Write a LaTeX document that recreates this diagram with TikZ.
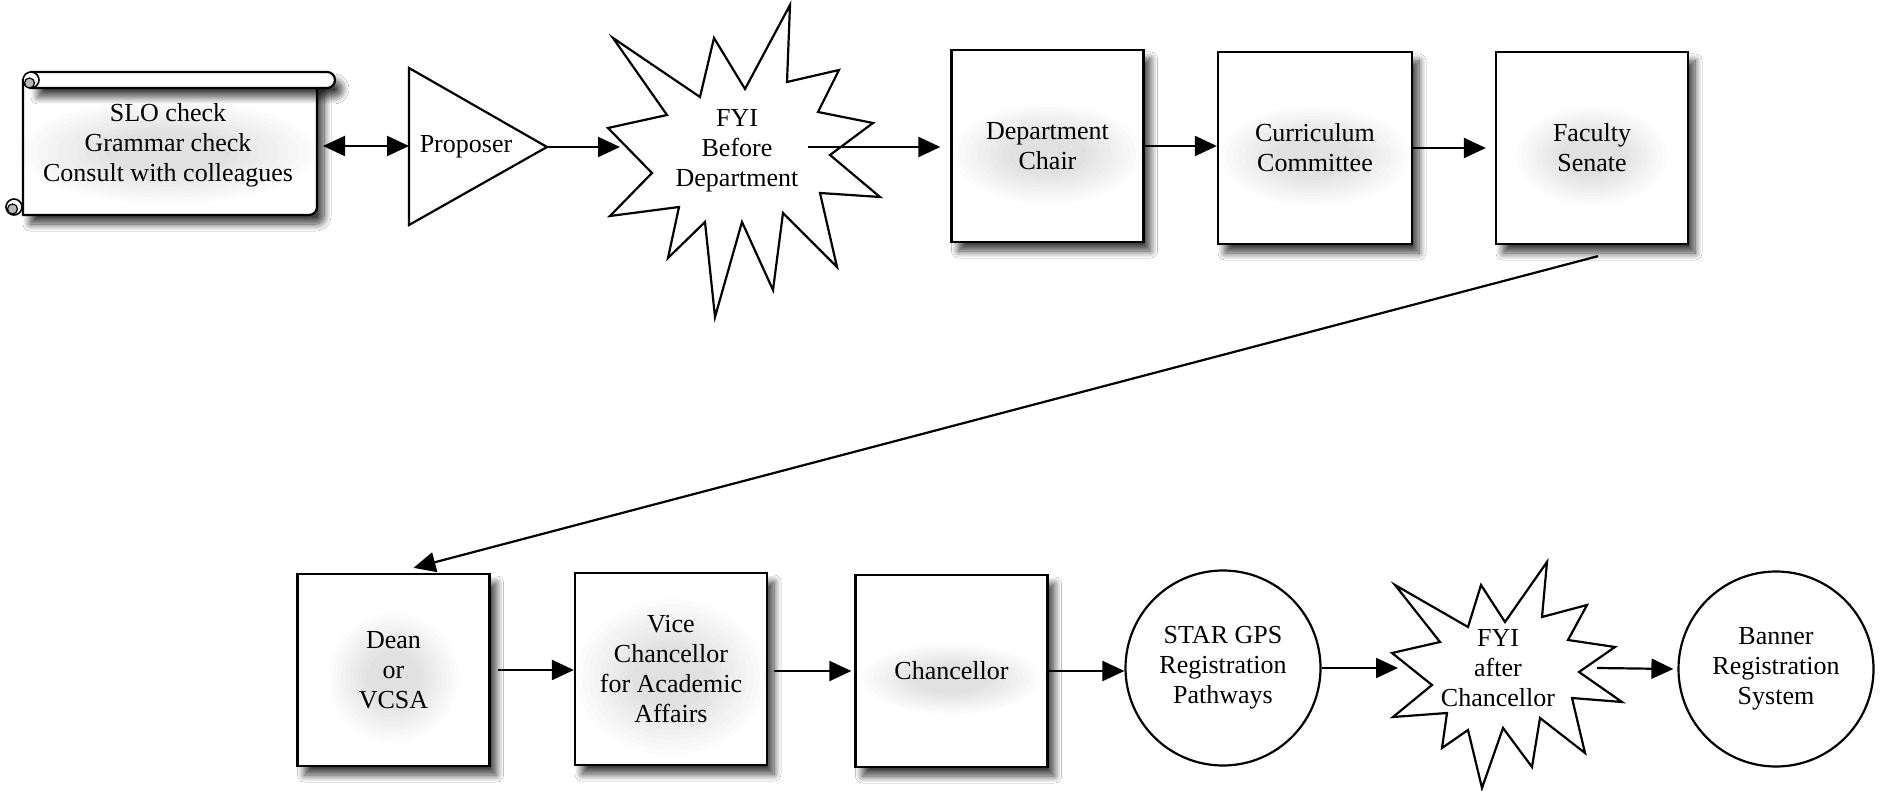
\documentclass[tikz,border=0pt]{standalone}
\usepackage{fontspec}
\setmainfont{Liberation Serif}
\usetikzlibrary{arrows.meta,shadows.blur}
\begin{document}
\begin{tikzpicture}[x=1pt,y=-1pt,
  lbl/.style={align=center,font=\fontsize{26}{30}\selectfont,inner sep=0pt},
  shd/.style={blur shadow={shadow xshift=7pt,shadow yshift=-9pt,shadow blur radius=7pt,shadow blur steps=12,shadow opacity=75}},
  box/.style={draw,line width=2.3pt,fill=white,minimum width=192pt,minimum height=192pt,inner sep=0pt,lbl,shd},
  glow/.style 2 args={path picture={
      \foreach \k in {1,...,10}{
        \fill[black,opacity=0.012] ([yshift=-8pt]path picture bounding box.center) ellipse[x radius={#1*(0.35+0.065*\k)}, y radius={#2*(0.35+0.065*\k)}];
      }}},
  tipa/.tip={Triangle[length=22pt,width=20pt,fill=black,color=black]},
  arr/.style={draw=black,line width=2.2pt,-tipa},
  dbl/.style={draw=black,line width=2.2pt,tipa-tipa},
  shapeline/.style={draw,line width=2.2pt,fill=white,line join=miter},
  circ/.style={circle,draw,line width=2.2pt,fill=white,minimum size=195pt,inner sep=0pt,lbl}
]
\useasboundingbox (0,0) rectangle (1880,791);
\fill[white] (0,0) rectangle (1880,791);

% ---- scroll ----
\path[shapeline,shd] (23,80) -- (23,215) -- (309,215) .. controls (313.4,215) and (317,211.4) .. (317,207) -- (317,80) -- cycle;
\foreach \k in {1,...,10}{
  \fill[black,opacity=0.012] (168,152) ellipse[x radius={150pt*(0.35+0.065*\k)}, y radius={52pt*(0.35+0.065*\k)}];
}
\path[shapeline,shd] (31,72) -- (327,72) .. controls (331.4,72) and (335,75.6) .. (335,80) .. controls (335,84.4) and (331.4,88) .. (327,88) -- (31,88) -- cycle;
\filldraw[line width=1.6pt,fill=white] (31,80) circle[radius=8pt];
\fill[gray!55] (29.5,83) circle[radius=5pt];
\draw[line width=1.2pt] (29.5,83) circle[radius=5pt];
\filldraw[line width=1.6pt,fill=white] (14,207) circle[radius=8pt];
\fill[gray!55] (12.5,209) circle[radius=5pt];
\draw[line width=1.2pt] (12.5,209) circle[radius=5pt];
\node[lbl] (scroll) at (168,145) {SLO check\\Grammar check\\Consult with colleagues};
\coordinate (scrollE) at (323,146);

% ---- proposer ----
\path[shapeline] (409,68) -- (547,147) -- (409,225) -- cycle;
\node[lbl] (prop) at (466,147) {Proposer};
\coordinate (propW) at (409,146);
\coordinate (propE) at (547,147);

% ---- FYI before department ----
\path[shapeline] (790,5) -- (787,82) -- (839,70) -- (818,112) -- (873,123) -- (830,155) -- (880,197) -- (820,193) -- (837,267) -- (783,213) -- (773,290) -- (742,222) -- (715,317) -- (705,222) -- (668,258) -- (679,207) -- (610,216) -- (652,173) -- (608,128) -- (667,115) -- (613,38) -- (700,97) -- (714,38) -- (745,89) -- cycle;
\node[lbl] (fyia) at (737,151) {FYI\\Before\\Department};
\coordinate (fyiaW) at (620,147);
\coordinate (fyiaE) at (808,147);

% ---- top boxes ----
\node[box,glow={95pt}{50pt}] (dept) at (1047.5,146) {Department\\Chair};
\node[box,minimum width=194pt,glow={95pt}{50pt}] (curr) at (1315,148) {Curriculum\\Committee};
\node[box,glow={75pt}{50pt}] (fac) at (1592,148) {Faculty\\Senate};

% ---- bottom boxes ----
\node[box,glow={65pt}{65pt}] (dean) at (393.5,670) {Dean\\or\\VCSA};
\node[box,glow={95pt}{78pt}] (vc) at (671,669) {Vice\\Chancellor\\for Academic\\Affairs};
\node[box,glow={90pt}{35pt}] (chan) at (951.5,671) {Chancellor};

% ---- circles ----
\node[circ] (gps) at (1223,668) {STAR GPS\\Registration\\Pathways};
\node[circ] (banner) at (1776,669) {Banner\\Registration\\System};

% ---- FYI after chancellor ----
\path[shapeline] (1547,562) -- (1542,617) -- (1587,605) -- (1568,640) -- (1615,647) -- (1579,672) -- (1622,702) -- (1572,698) -- (1585,753) -- (1540,718) -- (1532,767) -- (1503,728) -- (1482,788) -- (1468,730) -- (1442,748) -- (1447,713) -- (1393,717) -- (1432,685) -- (1392,653) -- (1440,642) -- (1395,585) -- (1468,627) -- (1481,585) -- (1505,622) -- cycle;
\node[lbl] (fyib) at (1498,668) {FYI\\after\\Chancellor};
\coordinate (fyibW) at (1398,668);
\coordinate (fyibE) at (1597,668);

% ---- connectors ----
\draw[dbl] (scrollE) -- (propW);
\draw[arr] (propE) -- (fyiaW);
\draw[arr] (fyiaE) -- ([xshift=-10pt]dept.west |- fyiaE);
\draw[arr] (dept.east) -- (curr.west |- dept.east);
\draw[arr] (curr.east) -- ([xshift=-9pt]fac.west);
\draw[arr] ([xshift=6pt,yshift=-11pt]fac.south) -- ([xshift=20pt,yshift=5pt]dean.north);
\draw[arr] ([xshift=7pt]dean.east) -- (vc.west |- dean.east);
\draw[arr] ([xshift=6pt]vc.east |- chan.west) -- ([xshift=-3pt]chan.west);
\draw[arr] (chan.east) -- (gps.west |- chan.east);
\draw[arr] (gps.east) -- (fyibW);
\draw[arr] (fyibE) -- ([xshift=-4pt]banner.west);
\end{tikzpicture}
\end{document}
